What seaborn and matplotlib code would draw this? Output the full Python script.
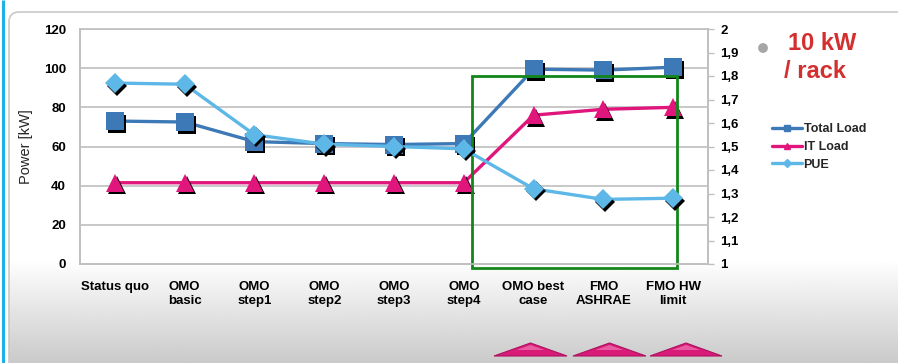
import numpy as np
import pandas as pd
import matplotlib
matplotlib.use("Agg")
import matplotlib.pyplot as plt
import matplotlib.patches as mpatches
import matplotlib.transforms as mtransforms
from matplotlib.lines import Line2D
from matplotlib.ticker import FixedLocator, FuncFormatter
import seaborn as sns

# --- data -------------------------------------------------------------
categories = ["Status quo", "OMO\nbasic", "OMO\nstep1", "OMO\nstep2", "OMO\nstep3",
              "OMO\nstep4", "OMO best\ncase", "FMO\nASHRAE", "FMO HW\nlimit"]
total_load = [73.0, 72.5, 62.5, 61.5, 61.0, 61.5, 99.5, 99.0, 100.5]
it_load = [41.5, 41.5, 41.5, 41.5, 41.5, 41.5, 76.0, 79.0, 80.0]
pue = [1.77, 1.765, 1.55, 1.51, 1.50, 1.49, 1.32, 1.275, 1.28]
left_ticks = [0, 20, 40, 60, 80, 100, 120]
right_ticks = [1.0, 1.1, 1.2, 1.3, 1.4, 1.5, 1.6, 1.7, 1.8, 1.9, 2.0]

series_names = ["Total Load", "IT Load", "PUE"]
colors = {"Total Load": "#3d79b6", "IT Load": "#e1167c", "PUE": "#5db7e7"}

df = pd.DataFrame({"pos": np.arange(len(categories)),
                   "scenario": categories,
                   "total": total_load, "it": it_load, "pue": pue})

sns.set_theme(style="white")
plt.rcParams["font.family"] = ["Liberation Sans", "DejaVu Sans"]

W, H = 898, 363
fig = plt.figure(figsize=(W / 100, H / 100), dpi=100)
fig.patch.set_facecolor("white")

# --- slide background: rounded panel with grey fade at the bottom ----
bg = fig.add_axes([0, 0, 1, 1], zorder=-5)
bg.set_xlim(0, W)
bg.set_ylim(H, 0)
bg.axis("off")
panel = mpatches.FancyBboxPatch((9, 12), W + 20, H + 20,
                                boxstyle="round,pad=0,rounding_size=10",
                                facecolor="none", edgecolor="#c9c9c9", lw=1.2)
bg.add_patch(panel)
col = np.ones(H)
ramp = np.arange(H) >= 255
col[ramp] = 1.0 - 0.21 * (np.arange(H)[ramp] - 255) / (H - 255)
grad = np.repeat(col[:, None], 4, axis=1)
im = bg.imshow(grad, cmap="gray", vmin=0, vmax=1, extent=[9, W + 20, H, 12],
               aspect="auto", interpolation="bilinear")
im.set_clip_path(panel)
bg.plot([3, 3], [0, H], color="#1fb0e8", lw=2.2, solid_capstyle="butt")

# decorative navigation arrows at the bottom
for x0, x1 in [(494, 567), (573, 646), (650, 722)]:
    xm = (x0 + x1) / 2
    bg.add_patch(mpatches.Polygon([[x0, 356], [xm, 343], [x1, 356]], closed=True,
                                  facecolor="#d81b78", edgecolor="#b0105f", lw=0.8))
    bg.add_patch(mpatches.Polygon([[xm - 14, 350], [xm, 345], [xm + 14, 350]], closed=True,
                                  facecolor="#f07ab4", edgecolor="none", alpha=0.7))

# --- chart axes -------------------------------------------------------
ax = fig.add_axes([80 / W, 1 - 264 / H, 628 / W, 235 / H])
ax.set_facecolor("white")
ax2 = ax.twinx()

ax.set_xlim(-0.5, len(categories) - 0.5)
ax.set_ylim(0, 120)
ax2.set_ylim(1.0, 2.0)

for y in left_ticks[1:]:
    ax.axhline(y, color="#bfbfbf", lw=1.2, zorder=0)

shadow_l = mtransforms.offset_copy(ax.transData, fig=fig, x=2, y=-2.5, units="dots")
shadow_r = mtransforms.offset_copy(ax2.transData, fig=fig, x=2, y=-2.5, units="dots")

# lines
sns.lineplot(data=df, x="pos", y="total", ax=ax, color=colors["Total Load"], lw=2.4,
             zorder=3, legend=False)
sns.lineplot(data=df, x="pos", y="it", ax=ax, color=colors["IT Load"], lw=2.4,
             zorder=3, legend=False)
# marker shadows
sns.lineplot(data=df, x="pos", y="total", ax=ax, color="black", marker="s", markersize=13,
             linestyle="", markeredgewidth=0, transform=shadow_l, zorder=4, legend=False)
sns.lineplot(data=df, x="pos", y="it", ax=ax, color="black", marker="^", markersize=13,
             linestyle="", markeredgewidth=0, transform=shadow_l, zorder=4, legend=False)
# markers
sns.lineplot(data=df, x="pos", y="total", ax=ax, color=colors["Total Load"], marker="s",
             markersize=13, linestyle="", markeredgewidth=0, zorder=5, legend=False)
sns.lineplot(data=df, x="pos", y="it", ax=ax, color=colors["IT Load"], marker="^",
             markersize=13, linestyle="", markeredgewidth=0, zorder=5, legend=False)

# PUE on the secondary axis
sns.lineplot(data=df, x="pos", y="pue", ax=ax2, color=colors["PUE"], lw=2.4,
             zorder=3, legend=False)
sns.lineplot(data=df, x="pos", y="pue", ax=ax2, color="black", marker="D", markersize=10.5,
             linestyle="", markeredgewidth=0, transform=shadow_r, zorder=4, legend=False)
sns.lineplot(data=df, x="pos", y="pue", ax=ax2, color=colors["PUE"], marker="D",
             markersize=10.5, linestyle="", markeredgewidth=0, zorder=5, legend=False)

# highlight box around the high-density scenarios
ax.add_patch(mpatches.Rectangle((5.12, -2.0), 2.94, 98.0, fill=False,
                                edgecolor="#13861a", lw=2.0, clip_on=False, zorder=6))

# --- axes styling -----------------------------------------------------
tick_font = dict(fontsize=9.5, color="black", fontweight="bold")
ax.set_xticks(df["pos"])
ax.set_xticklabels(categories, linespacing=1.25, **tick_font)
ax.yaxis.set_major_locator(FixedLocator(left_ticks))
ax.set_yticklabels([str(v) for v in left_ticks], **tick_font)
ax.tick_params(axis="x", length=0, pad=12)
ax.tick_params(axis="y", length=0, pad=10)
ax.set_xlabel("")
ax.set_ylabel("Power [kW]", fontsize=10.5, labelpad=8)

ax2.yaxis.set_major_locator(FixedLocator(right_ticks))
ax2.yaxis.set_major_formatter(FuncFormatter(
    lambda v, p: f"{v:.1f}".replace(".", ",") if abs(v - round(v)) > 1e-6 else f"{int(round(v))}"))
ax2.tick_params(axis="y", length=4, width=1, color="#bfbfbf", direction="out", pad=5,
                labelsize=9.5, labelcolor="black")
for lab in ax2.get_yticklabels():
    lab.set_fontweight("bold")
ax2.set_ylabel("")
ax2.set_xlabel("")

for a in (ax, ax2):
    a.spines["top"].set_visible(False)
    for side in ("left", "right", "bottom"):
        a.spines[side].set_color("#bfbfbf")
        a.spines[side].set_linewidth(1.2)
ax.axhline(120, color="#bfbfbf", lw=1.2, zorder=0, clip_on=False)

# --- legend and callout ----------------------------------------------
handles = [
    Line2D([], [], color=colors["Total Load"], lw=2.4, marker="s", markersize=5),
    Line2D([], [], color=colors["IT Load"], lw=2.4, marker="^", markersize=5),
    Line2D([], [], color=colors["PUE"], lw=2.4, marker="D", markersize=4),
]
fig.legend(handles, series_names, loc="center left", bbox_to_anchor=(766 / W, 1 - 147 / H),
           frameon=False, handlelength=2.4, handletextpad=0.1,
           labelspacing=0.45, borderpad=0, prop={"size": 9, "weight": "bold"})

fig.text(788 / W, 1 - 43 / H, "10 kW", color="#d42f2f", fontsize=17, fontweight="bold",
         ha="left", va="center")
fig.text(784 / W, 1 - 71 / H, "/ rack", color="#d42f2f", fontsize=17, fontweight="bold",
         ha="left", va="center")
bg.add_patch(mpatches.Circle((763, 48), 4.2, color="#a6a6a6"))

fig.savefig("out.png", dpi=100)
